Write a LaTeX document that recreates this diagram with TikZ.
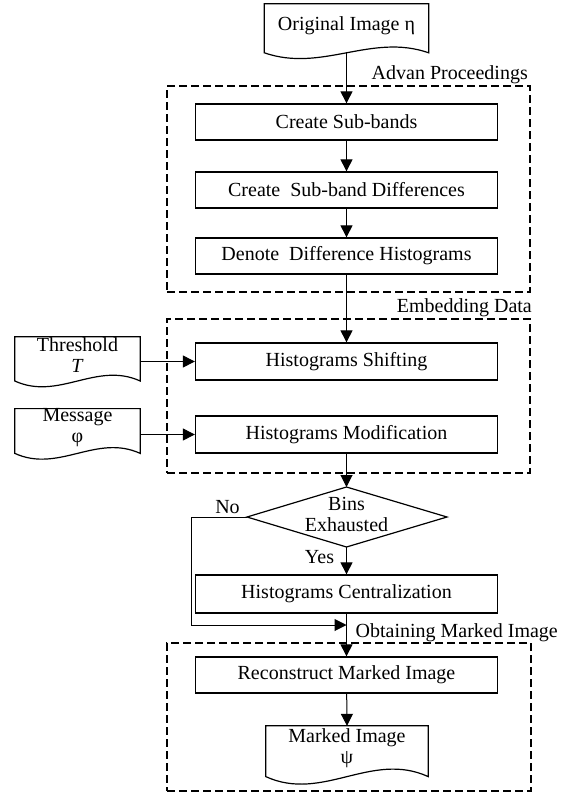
\documentclass[tikz,border=0pt]{standalone}
\usepackage{fontspec}
\setmainfont{Liberation Serif}
\usetikzlibrary{arrows.meta,calc}
\newcommand{\docoutline}[3]{%
  \draw[boxline] let \p1=(#1.west), \p2=(#1.east), \n1={0.35*(\x2-\x1)} in
   ([yshift=#2]#1.south west) .. controls +(\n1,#3) and +(-\n1,-#3) .. ([yshift=#2]#1.south east)
   -- (#1.north east) -- (#1.north west) -- cycle;}
\begin{document}
\begin{tikzpicture}[x=1pt,y=-1pt,
  txt/.style={font=\fontsize{20}{21}\selectfont},
  procbox/.style={draw, line width=1.3pt, minimum width=302pt, minimum height=36pt, inner sep=0pt, txt},
  docnode/.style={inner sep=0pt, align=center, txt},
  boxline/.style={line width=1.2pt},
  group/.style={draw, line width=2.4pt, dash pattern=on 8pt off 4pt, minimum width=363pt, inner sep=0pt},
  arr/.style={line width=1pt, -{Triangle[length=12pt,width=12pt]}},
  lbl/.style={txt, inner sep=0pt}
]
\useasboundingbox (0,0) rectangle (560,795);
% groups
\node[group, minimum height=206pt] (g1) at (348.5,189) {};
\node[group, minimum height=154pt] (g2) at (348.5,396) {};
\node[group, minimum width=364pt, minimum height=148pt] (g3) at (349,717) {};
\node[lbl, anchor=base east] (l1) at (528,79) {Advan Proceedings};
\node[lbl, anchor=base east] (l2) at (532,312) {Embedding Data};
\node[lbl, anchor=base east] (l3) at (558,637) {Obtaining Marked Image};
% documents
\node[docnode, minimum width=164pt, minimum height=43pt] (orig) at (346.5,25.4) {Original Image η};
\docoutline{orig}{-5.7pt}{20}
\node[docnode, minimum width=125pt, minimum height=36.4pt] (thr) at (77.5,355.2) {Threshold\\\textit{T}};
\docoutline{thr}{-7.4pt}{20}
\node[docnode, minimum width=125pt, minimum height=38pt] (msg) at (77.5,428) {Message\\φ};
\docoutline{msg}{-6pt}{20}
\node[docnode, minimum width=162pt, minimum height=43.4pt] (mark) at (347,747.7) {Marked Image\\ψ};
\docoutline{mark}{-7pt}{26}
% process boxes
\node[procbox] (csb) at (346.5,122) {Create Sub-bands};
\node[procbox] (csd) at (346.5,190) {Create\ \ Sub-band Differences};
\node[procbox] (ddh) at (346.5,256) {Denote\ \ Difference Histograms};
\node[procbox, minimum height=37pt] (shift) at (346.5,361.5) {Histograms Shifting};
\node[procbox, minimum height=37pt] (modif) at (346.5,434.5) {Histograms Modification};
\node[procbox, minimum height=38pt] (central) at (346.5,594) {Histograms Centralization};
\node[procbox] (recon) at (346.5,675) {Reconstruct Marked Image};
% decision
\coordinate (dt) at (346.5,487);
\coordinate (db) at (346.5,547);
\coordinate (dl) at (247,517);
\coordinate (dr) at (447,517);
\draw[boxline] (dt) -- (dr) -- (db) -- (dl) -- cycle;
\node[docnode] (bins) at (346.5,514) {Bins\\Exhausted};
\node[lbl, anchor=base] (no) at (227.5,513) {No};
\node[lbl, anchor=base] (yes) at (319.5,563) {Yes};
% connectors
\draw[arr] ([yshift=-5.7pt]orig.south) -- (csb);
\draw[arr] (csb) -- (csd);
\draw[arr] (csd) -- (ddh);
\draw[arr] (ddh) -- (shift);
\draw[arr] (thr.east |- shift.west) -- (shift.west);
\draw[arr] (msg.east |- modif.west) -- (modif.west);
\draw[arr] (modif) -- (dt);
\draw[arr] (db) -- (central);
\draw[arr] (central) -- (recon);
\draw[arr] (recon) -- (mark.north);
\coordinate (nb) at (191,517);
\coordinate (nc) at (191,625);
\coordinate (nj) at (346.5,625);
\draw[arr] (dl) -- (nb) -- (nc) -- (nj);
\end{tikzpicture}
\end{document}
